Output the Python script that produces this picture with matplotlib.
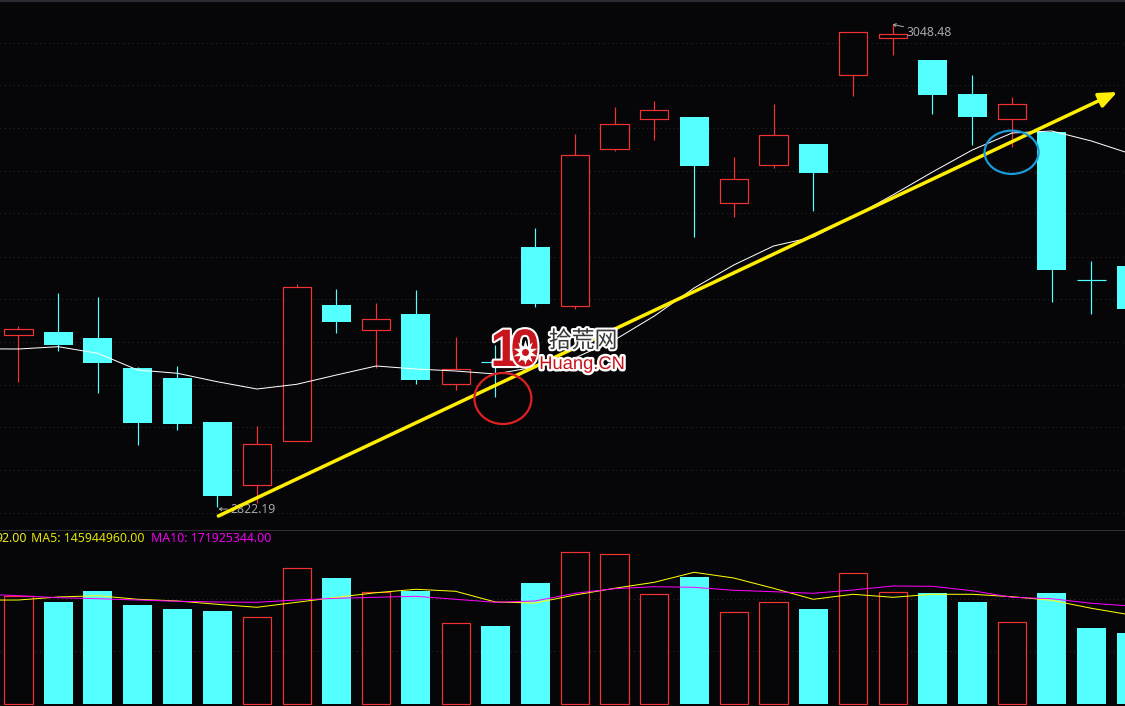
import matplotlib
matplotlib.use("Agg")
import numpy as np
import matplotlib.pyplot as plt
import matplotlib.patheffects as pe
from matplotlib.patches import Ellipse

# daily candles, index points
opens = [2903.00, 2904.17, 2901.36, 2887.31, 2882.62, 2862.01, 2832.35, 2853.25, 2916.82, 2904.97,
         2912.61, 2879.58, 2890.12, 2944.00, 2916.50, 2990.05, 3003.83, 3004.90, 2964.47, 2982.27,
         2992.25, 3024.44, 3042.06, 3031.61, 3015.68, 3004.11, 2997.88, 2928.40, 2935.10]
closes = [2905.35, 2898.08, 2889.79, 2861.54, 2861.07, 2827.34, 2851.56, 2925.12, 2909.00, 2910.12,
          2881.69, 2887.07, 2890.12, 2917.43, 2986.96, 3001.48, 3008.04, 2981.95, 2975.72, 2996.33,
          2978.67, 3044.59, 3043.65, 3015.21, 3005.04, 3010.85, 2933.22, 2928.40, 2914.95]
highs = [2906.99, 2922.45, 2920.57, 2887.78, 2888.25, 2862.01, 2860.13, 2926.66, 2924.32, 2917.76,
         2923.85, 2901.83, 2898.08, 2952.90, 2996.94, 3009.59, 3012.40, 3004.90, 2986.16, 3010.99,
         2992.25, 3044.73, 3048.48, 3031.61, 3024.58, 3014.27, 2998.35, 2937.44, 2935.10]
lows = [2880.89, 2895.41, 2875.74, 2851.37, 2858.26, 2822.19, 2824.06, 2853.11, 2903.85, 2887.31,
        2879.81, 2877.00, 2873.86, 2916.03, 2915.09, 2989.12, 2994.27, 2948.82, 2958.19, 2981.15,
        2961.01, 3014.74, 3033.95, 3006.31, 2991.79, 2990.99, 2918.37, 2912.75, 2914.95]
# moving averages start one day before the first full candle
price_ma = [2896.3, 2896.21, 2897.29, 2894.19, 2886.37, 2884.83, 2880.89, 2877.47, 2879.67, 2884.03, 2888.25,
            2886.84, 2885.90, 2884.50, 2887.78, 2891.99, 2900.43, 2911.67, 2924.79, 2935.57, 2944.47,
            2948.68, 2958.05, 2968.36, 2979.14, 2989.44, 2997.41, 2998.35, 2993.66, 2987.57]
price_grid = [3039.7, 3019.7, 2999.6, 2979.5, 2959.8, 2939.5, 2919.5, 2899.3, 2879.2, 2859.5, 2839.4, 2819.2]

# volume in millions
volumes = [183.1, 173.4, 192.1, 168.3, 161.5, 158.1, 147.4, 230.7, 214.2, 189.9,
           192.1, 137.2, 132.6, 205.7, 257.9, 254.5, 186.5, 215.9, 155.9, 172.9,
           161.5, 222.2, 189.9, 188.7, 173.4, 138.9, 188.7, 129.2, 120.7]
vol_ma5 = [176.6, 176.8, 181.9, 184.1, 178.0, 175.1, 169.5, 164.4, 172.9, 181.4, 189.2,
           195.0, 191.6, 173.4, 171.7, 185.3, 196.7, 206.9, 223.9, 214.2, 196.7,
           178.0, 186.5, 181.4, 186.5, 186.5, 182.4, 176.3, 162.7, 151.3]
vol_ma10 = [187.0, 184.1, 180.7, 179.0, 176.8, 174.6, 173.4, 172.9, 176.8, 179.7, 181.4,
            183.1, 178.0, 172.9, 175.1, 188.2, 196.0, 199.4, 198.4, 193.3, 190.9,
            188.2, 193.8, 200.6, 200.1, 192.6, 181.4, 179.0, 171.2, 166.6]
vol_grid = [178.0, 89.6]

BG = "#060609"
RED = "#f53232"
CYAN = "#54ffff"
GRID = "#2c2c2c"
LABEL = "#a8a8a8"
DOTS = (0, (1, 3.4))
PX = 0.72
BOX = 0.85

W, H = 1125, 706
fig = plt.figure(figsize=(W / 100, H / 100), dpi=100, facecolor=BG)
ax = fig.add_axes([0, 1 - 530 / H, 1, 530 / H], facecolor=BG)
vax = fig.add_axes([0, 0, 1, 176 / H], facecolor=BG)


def fx(x):
    return x / W


def fy(y):
    return 1 - y / H


x = np.arange(len(opens))
ma_x = np.arange(-1, len(opens))
xlim = (-0.465, 27.844)

# price pane
for level in price_grid:
    ax.axhline(level, color=GRID, lw=PX, ls=DOTS, zorder=1)

for i in x:
    up = closes[i] > opens[i]
    color = RED if up else CYAN
    ax.vlines(i, lows[i], highs[i], color=color, lw=BOX, zorder=2)
    top, bottom = max(opens[i], closes[i]), min(opens[i], closes[i])
    if top == bottom:
        ax.hlines(top, i - 0.36, i + 0.36, color=color, lw=BOX, zorder=3)
    elif up:
        ax.bar(i, top - bottom, bottom=bottom, width=0.71, facecolor=BG, edgecolor=RED,
               linewidth=BOX, zorder=3)
    else:
        ax.bar(i, top - bottom, bottom=bottom, width=0.73, facecolor=CYAN, edgecolor="none",
               zorder=3)

ax.plot(ma_x, price_ma, color="white", lw=PX, zorder=4)

ax.annotate("3048.48", xy=(22.0, 3048.3), xytext=(22.34, 3044.6), color=LABEL, fontsize=8.8,
            family="Noto Sans", va="center", zorder=5,
            arrowprops=dict(arrowstyle="->,head_length=0.2,head_width=0.12", color=LABEL,
                            lw=PX, shrinkA=0, shrinkB=0))
ax.annotate("2822.19", xy=(5.03, 2821.2), xytext=(5.33, 2821.2), color=LABEL, fontsize=8.8,
            family="Noto Sans", va="center", zorder=5,
            arrowprops=dict(arrowstyle="->,head_length=0.2,head_width=0.12", color=LABEL,
                            lw=PX, shrinkA=0, shrinkB=0))

# hand drawn trend line and the two circles
ax.annotate("", xy=(27.65, 3016.62), xytext=(5.03, 2817.97), zorder=6,
            arrowprops=dict(arrowstyle="-|>,head_length=0.6,head_width=0.25", color="#ffee00",
                            lw=2.5, shrinkA=0, shrinkB=0, mutation_scale=18))
ax.add_patch(Ellipse((12.19, 2873.02), 1.434, 23.9, fill=False, edgecolor="#dd2020", lw=1.6, zorder=7))
ax.add_patch(Ellipse((24.99, 2988.37), 1.359, 20.3, fill=False, edgecolor="#1a9ad8", lw=1.6, zorder=7))

ax.set_xlim(*xlim)
ax.set_ylim(2811.41, 3059.72)
ax.set_xticks([])
ax.set_yticks([])
for side in ["left", "right", "bottom"]:
    ax.spines[side].set_visible(False)
ax.spines["top"].set_color("#2b2b33")
ax.spines["top"].set_linewidth(3)

# volume pane
for level in vol_grid:
    vax.axhline(level, color=GRID, lw=PX, ls=DOTS, zorder=1)

for i in x:
    if closes[i] > opens[i]:
        vax.bar(i, volumes[i], width=0.71, facecolor=BG, edgecolor=RED, linewidth=BOX, zorder=2)
    else:
        vax.bar(i, volumes[i], width=0.73, facecolor=CYAN, edgecolor="none", zorder=2)

vax.plot(ma_x, vol_ma5, color="#ffff00", lw=PX, zorder=3)
vax.plot(ma_x, vol_ma10, color="#ff00ff", lw=PX, zorder=4)

vax.set_xlim(*xlim)
vax.set_ylim(-3.4, 295.8)
vax.set_xticks([])
vax.set_yticks([])
for side in ["left", "right", "bottom"]:
    vax.spines[side].set_visible(False)
vax.spines["top"].set_color("#303030")
vax.spines["top"].set_linewidth(PX)

fig.text(fx(26.5), fy(538.5), "92.00", color="#eaea20", fontsize=8.85, family="Noto Sans", ha="right", va="center")
fig.text(fx(31), fy(538.5), "MA5: 145944960.00", color="#e4e400", fontsize=8.85, family="Noto Sans", va="center")
fig.text(fx(151), fy(538.5), "MA10: 171925344.00", color="#f000f0", fontsize=8.85, family="Noto Sans", va="center")

# watermark
white = [pe.withStroke(linewidth=3, foreground="white")]
logo_red = "#c8141c"
fig.text(fx(505), fy(352), "1", color=logo_red, fontsize=38, family="Liberation Sans", weight="bold",
         ha="center", va="center", path_effects=white, zorder=10)
fig.text(fx(525), fy(352), "0", color=logo_red, fontsize=38, family="Liberation Sans", weight="bold",
         ha="center", va="center", path_effects=white, zorder=10)
gear = fig.add_axes([fx(513), fy(364), 24 / W, 24 / H], facecolor="none", zorder=11)
gear.axis("off")
gear.plot([0], [0], marker=(10, 1, 0), color="white", markersize=18, mew=0)
gear.plot([0], [0], marker="o", color=logo_red, markersize=5, mew=0)
fig.text(fx(583), fy(341), "拾荒网", color="#3a3a3a", fontsize=16.5, family="Noto Sans CJK SC",
         ha="center", va="center", path_effects=white, zorder=10)
fig.text(fx(582), fy(364.5), "Huang.CN", color=logo_red, fontsize=13.2, family="Liberation Sans",
         ha="center", va="center", path_effects=[pe.withStroke(linewidth=3.5, foreground="white")], zorder=10)

fig.savefig("out.png", dpi=100, facecolor=BG)
